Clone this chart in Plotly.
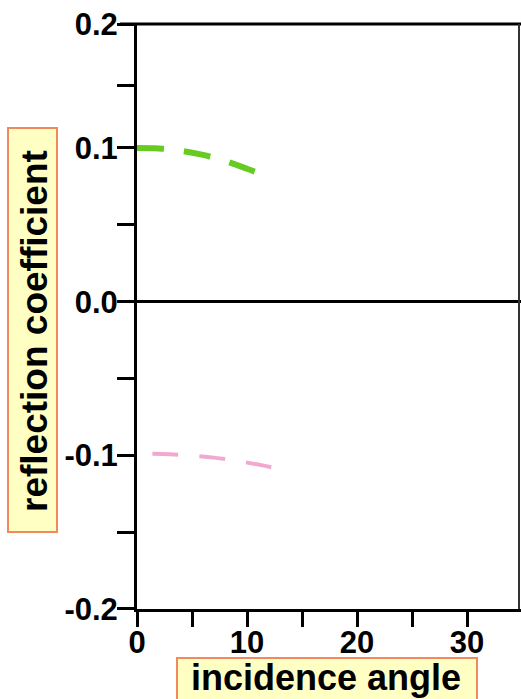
import plotly.graph_objects as go
from plotly.subplots import make_subplots

# Reflection coefficient vs incidence angle (degrees)
green_angle = [0, 2, 4, 6, 8, 10, 11]
green_r = [0.1000, 0.0997, 0.0982, 0.0955, 0.0915, 0.0865, 0.0838]

pink_angle = [1.4, 3, 5, 7, 9, 11, 12.4]
pink_r = [-0.0990, -0.0993, -0.1002, -0.1015, -0.1035, -0.1060, -0.1080]

x_ticks = [0, 10, 20, 30]
x_tick_labels = ["0", "10", "20", "30"]
y_low_ticks = [-0.2, -0.15, -0.1, -0.05, 0.0, 0.05, 0.1]
y_low_labels = ["-0.2", "", "-0.1", "", "0.0", "", "0.1"]
y_top_ticks = [0.15, 0.2]
y_top_labels = ["", "0.2"]

W, H = 521, 699
L, R, T, B = 137, 0, 24, 90
PW, PH = W - L - R, H - T - B


def px_x(px):
    return (px - L) / PW


def px_y(py):
    return (H - B - py) / PH


FONT = "Liberation Sans, Arial, Helvetica, sans-serif"

# the axis is split: a compressed upper segment and the main linear segment
split = 0.105
low_px_per_unit = 461 / 0.3
low_h = (split + 0.2) * low_px_per_unit
upper_h = PH - low_h

fig = make_subplots(rows=2, cols=1, shared_xaxes=True, vertical_spacing=0,
                    row_heights=[upper_h / PH, low_h / PH])

# empty trace so the upper axis segment is drawn
fig.add_trace(go.Scatter(x=[], y=[], mode="lines", hoverinfo="skip", showlegend=False),
              row=1, col=1)

fig.add_trace(go.Scatter(x=green_angle, y=green_r, mode="lines",
                         line=dict(color="#66cc22", width=6, dash="27px,20px", shape="spline"),
                         hoverinfo="skip", showlegend=False), row=2, col=1)
fig.add_trace(go.Scatter(x=pink_angle, y=pink_r, mode="lines",
                         line=dict(color="#f2a9cf", width=4, dash="26px,21px", shape="spline"),
                         hoverinfo="skip", showlegend=False), row=2, col=1)

tickfont = dict(family=FONT, size=31, color="black", weight="bold")

fig.update_xaxes(row=1, col=1, range=[0, 34.9], showline=False, ticks="",
                 showticklabels=False, showgrid=False, zeroline=False)
fig.update_yaxes(row=1, col=1, range=[split, 0.2], tickvals=y_top_ticks, ticktext=y_top_labels,
                 showline=True, linecolor="black", linewidth=3, ticks="outside",
                 ticklen=17, tickwidth=3, tickcolor="black", showgrid=False,
                 zeroline=False, tickfont=tickfont, ticklabelstandoff=-7)

fig.update_xaxes(row=2, col=1, range=[0, 34.9], tickvals=x_ticks, ticktext=x_tick_labels,
                 showline=True, linecolor="black", linewidth=3, ticks="outside",
                 ticklen=15, tickwidth=3, tickcolor="black", showgrid=False,
                 zeroline=False, tickfont=tickfont, ticklabelstandoff=-11,
                 minor=dict(dtick=5, ticks="outside", ticklen=15, tickwidth=3,
                            tickcolor="black", showgrid=False))
fig.update_yaxes(row=2, col=1, range=[-0.2, split], tickvals=y_low_ticks, ticktext=y_low_labels,
                 showline=True, linecolor="black", linewidth=3, ticks="outside",
                 ticklen=17, tickwidth=3, tickcolor="black", showgrid=False,
                 zeroline=True, zerolinecolor="black", zerolinewidth=3,
                 tickfont=tickfont, ticklabelstandoff=-7)

box_fill = "#ffffc4"
box_line = dict(color="#f08a5d", width=2)

shapes = [
    # frame: top edge and right edge
    dict(type="line", xref="paper", yref="paper", x0=px_x(120), x1=px_x(W), y0=1, y1=1,
         line=dict(color="black", width=3)),
    dict(type="line", xref="paper", yref="paper", x0=px_x(519), x1=px_x(519), y0=0, y1=1,
         line=dict(color="#333333", width=2)),
    # title boxes
    dict(type="rect", xref="paper", yref="paper", x0=px_x(8), x1=px_x(57),
         y0=px_y(532), y1=px_y(128), fillcolor=box_fill, line=box_line, layer="below"),
    dict(type="rect", xref="paper", yref="paper", x0=px_x(177), x1=px_x(477),
         y0=px_y(706), y1=px_y(658), fillcolor=box_fill, line=box_line, layer="below"),
]

annotations = [
    dict(text="reflection coefficient", xref="paper", yref="paper",
         x=px_x(34), y=px_y(331), xanchor="center", yanchor="middle", textangle=-90,
         showarrow=False, font=dict(family=FONT, size=37, color="black", weight="bold")),
    dict(text="incidence angle", xref="paper", yref="paper",
         x=px_x(326), y=px_y(677), xanchor="center", yanchor="middle",
         showarrow=False, font=dict(family=FONT, size=36, color="black", weight="bold")),
]

fig.update_layout(width=W, height=H, margin=dict(l=L, r=R, t=T, b=B),
                  paper_bgcolor="white", plot_bgcolor="white",
                  shapes=shapes, annotations=annotations, showlegend=False)

fig.write_html("out.html", config=dict(displayModeBar=False))
